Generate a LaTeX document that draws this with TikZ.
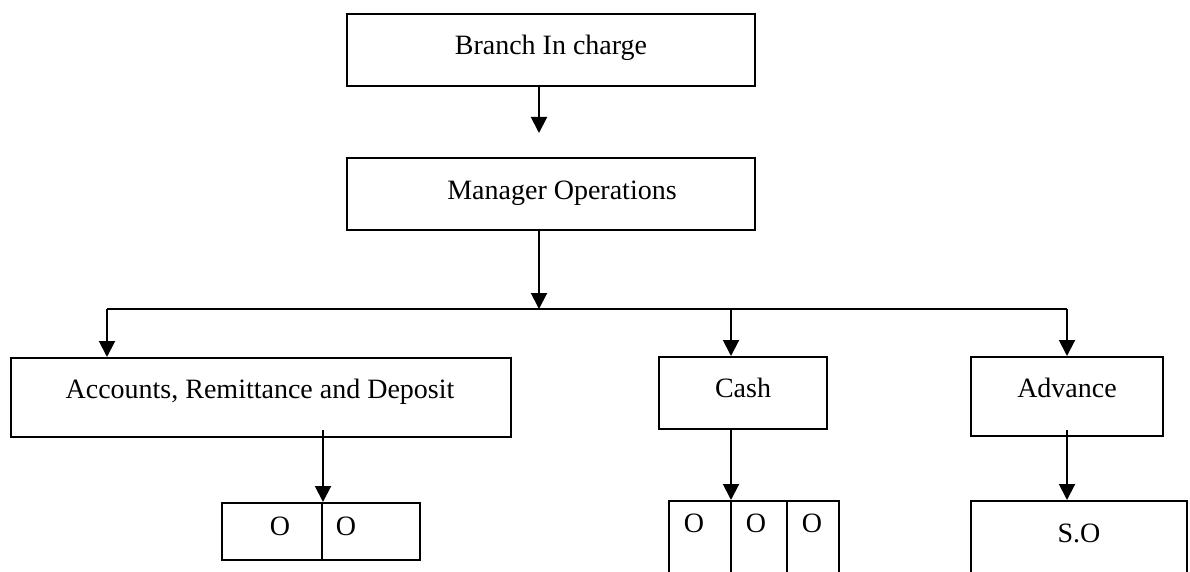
\documentclass[tikz,border=0pt]{standalone}
\usepackage{fontspec}
\setmainfont{Liberation Serif}
\usetikzlibrary{arrows.meta}
\tikzset{
  boxnode/.style={draw, line width=2pt, rectangle, inner sep=0pt},
  txt/.style={anchor=base, inner sep=0pt, font=\fontsize{28}{32}\selectfont},
  link/.style={line width=2pt},
  arr/.style={line width=2pt, -{Triangle[width=16pt,length=16pt]}},
}
\begin{document}
\begin{tikzpicture}[x=1pt,y=-1pt]
\useasboundingbox (0,0) rectangle (1190,572);
\clip (0,0) rectangle (1190,572);

% top of the chart
\node[boxnode, minimum width=408pt, minimum height=72pt] (bic) at (551,50) {};
\node[txt] (bict) at (551,55) {Branch In charge};
\node[boxnode, minimum width=408pt, minimum height=72pt] (mop) at (551,194) {};
\node[txt] (mopt) at (562,199) {Manager Operations};

% department boxes
\node[boxnode, minimum width=500pt, minimum height=79pt] (acc) at (261,397.5) {};
\node[txt] (acct) at (260,398) {Accounts, Remittance and Deposit};
\node[boxnode, minimum width=168pt, minimum height=72pt] (cash) at (743,393) {};
\node[txt] (casht) at (743,397) {Cash};
\node[boxnode, minimum width=192pt, minimum height=79pt] (adv) at (1067,396.5) {};
\node[txt] (advt) at (1067,397) {Advance};

% staff boxes
\node[boxnode, minimum width=198pt, minimum height=57pt] (oo) at (321,531.5) {};
\node[txt] (o1) at (280,535) {O};
\node[txt] (o2) at (346,535) {O};
\node[boxnode, minimum width=170pt, minimum height=84pt] (ooo) at (754,543) {};
\node[txt] (o3) at (694,532) {O};
\node[txt] (o4) at (756,532) {O};
\node[txt] (o5) at (812,532) {O};
\node[boxnode, minimum width=216pt, minimum height=84pt] (so) at (1079,543) {};
\node[txt] (sot) at (1079,542) {S.O};

% cell dividers
\draw[link] (oo.north -| 322,0) -- (oo.south -| 322,0);
\draw[link] (ooo.north -| 731,0) -- (ooo.south -| 731,0);
\draw[link] (ooo.north -| 787,0) -- (ooo.south -| 787,0);

% connectors
\coordinate (c1) at (539,133);
\coordinate (hub) at (539,309);
\coordinate (hl) at (107,309);
\coordinate (hc) at (731,309);
\coordinate (hr) at (1067,309);
\draw[arr] (c1 |- bic.south) -- (c1);
\draw[arr] (hub |- mop.south) -- (hub);
\draw[link] (hl) -- (hr);
\draw[arr] (hl) -- (hl |- acc.north);
\draw[arr] (hc) -- (hc |- cash.north);
\draw[arr] (hr) -- (hr |- adv.north);

\coordinate (d1) at (323,430);
\coordinate (d2) at (731,429);
\coordinate (d3) at (1067,430);
\draw[arr] (d1) -- (d1 |- oo.north);
\draw[arr] (d2) -- (d2 |- ooo.north);
\draw[arr] (d3) -- (d3 |- so.north);
\end{tikzpicture}
\end{document}
